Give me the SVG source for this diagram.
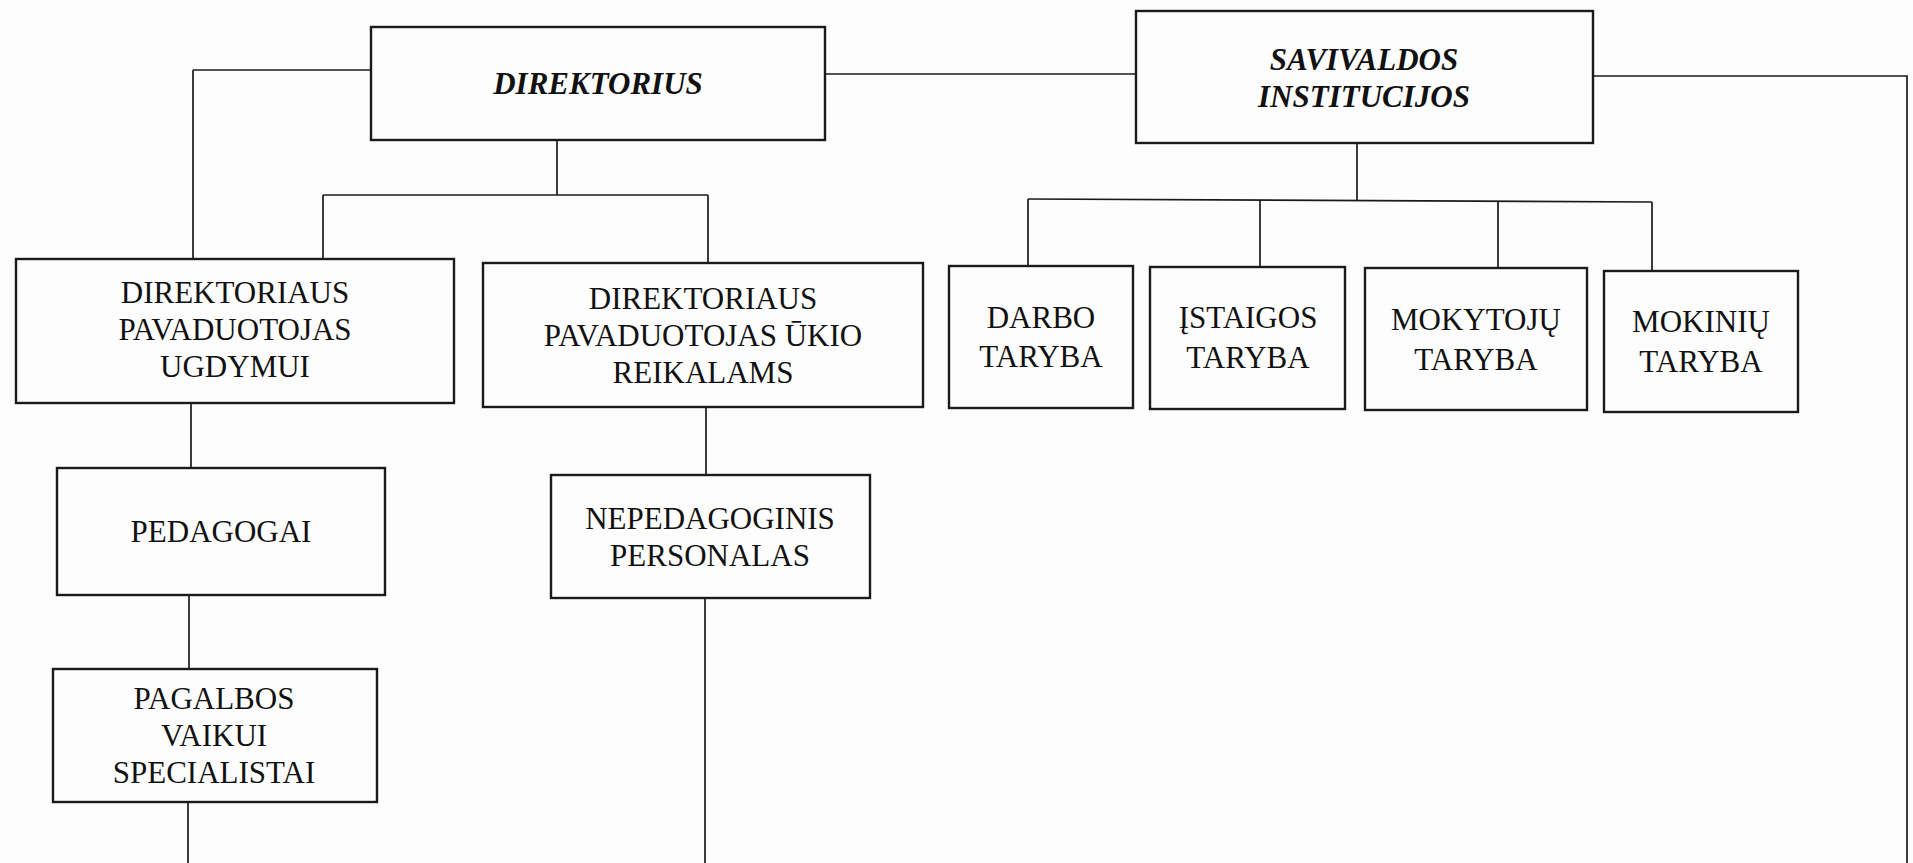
<svg xmlns="http://www.w3.org/2000/svg" width="1913" height="863" viewBox="0 0 1913 863">
<style>
.bg{fill:#fdfdfd}
.box{fill:none;stroke:#1a1a1a;stroke-width:2.4}
.ln{fill:none;stroke:#1a1a1a;stroke-width:1.7}
text{font-family:"Liberation Serif","Times New Roman",serif;font-size:31px;fill:#111;text-anchor:middle}
.hd{font-weight:bold;font-style:italic}
</style>
<rect class="bg" x="0" y="0" width="1913" height="863"/>
<g id="connectors">
<path class="ln" d="M193 70 H371"/>
<path class="ln" d="M193 70 V259"/>
<path class="ln" d="M191 403 V468"/>
<path class="ln" d="M189 595 V669"/>
<path class="ln" d="M188 802 V863"/>
<path class="ln" d="M825 74 H1136"/>
<path class="ln" d="M1593 76 H1907 V863"/>
<path class="ln" d="M557 140 V195"/>
<path class="ln" d="M323 195 H708"/>
<path class="ln" d="M323 195 V259"/>
<path class="ln" d="M708 195 V263"/>
<path class="ln" d="M706 407 V475"/>
<path class="ln" d="M705 598 V863"/>
<path class="ln" d="M1357 143 V200"/>
<path class="ln" d="M1028 199 L1652 202"/>
<path class="ln" d="M1028 199 V266"/>
<path class="ln" d="M1260 200 V267"/>
<path class="ln" d="M1498 201 V268"/>
<path class="ln" d="M1652 202 V271"/>
</g>
<g id="direktorius">
<rect class="box" x="371" y="27" width="454" height="113"/>
<text class="hd" x="598" y="94">DIREKTORIUS</text>
</g>
<g id="savivaldos">
<rect class="box" x="1136" y="11" width="457" height="132"/>
<text class="hd" x="1364" y="70">SAVIVALDOS</text>
<text class="hd" x="1364" y="107">INSTITUCIJOS</text>
</g>
<g id="pav-ugdymui">
<rect class="box" x="16" y="259" width="438" height="144"/>
<text x="235" y="303">DIREKTORIAUS</text>
<text x="235" y="340">PAVADUOTOJAS</text>
<text x="235" y="377">UGDYMUI</text>
</g>
<g id="pav-ukio">
<rect class="box" x="483" y="263" width="440" height="144"/>
<text x="703" y="309">DIREKTORIAUS</text>
<text x="703" y="346">PAVADUOTOJAS ŪKIO</text>
<text x="703" y="383">REIKALAMS</text>
</g>
<g id="darbo">
<rect class="box" x="949" y="266" width="184" height="142"/>
<text x="1041" y="328">DARBO</text>
<text x="1041" y="367">TARYBA</text>
</g>
<g id="istaigos">
<rect class="box" x="1150" y="267" width="195" height="142"/>
<text x="1248" y="328">ĮSTAIGOS</text>
<text x="1248" y="368">TARYBA</text>
</g>
<g id="mokytoju">
<rect class="box" x="1365" y="268" width="222" height="142"/>
<text x="1476" y="330">MOKYTOJŲ</text>
<text x="1476" y="370">TARYBA</text>
</g>
<g id="mokiniu">
<rect class="box" x="1604" y="271" width="194" height="141"/>
<text x="1701" y="332">MOKINIŲ</text>
<text x="1701" y="372">TARYBA</text>
</g>
<g id="pedagogai">
<rect class="box" x="57" y="468" width="328" height="127"/>
<text x="221" y="542">PEDAGOGAI</text>
</g>
<g id="nepedagoginis">
<rect class="box" x="551" y="475" width="319" height="123"/>
<text x="710" y="529">NEPEDAGOGINIS</text>
<text x="710" y="566">PERSONALAS</text>
</g>
<g id="pagalbos">
<rect class="box" x="53" y="669" width="324" height="133"/>
<text x="214" y="709">PAGALBOS</text>
<text x="214" y="746">VAIKUI</text>
<text x="214" y="783">SPECIALISTAI</text>
</g>
</svg>
